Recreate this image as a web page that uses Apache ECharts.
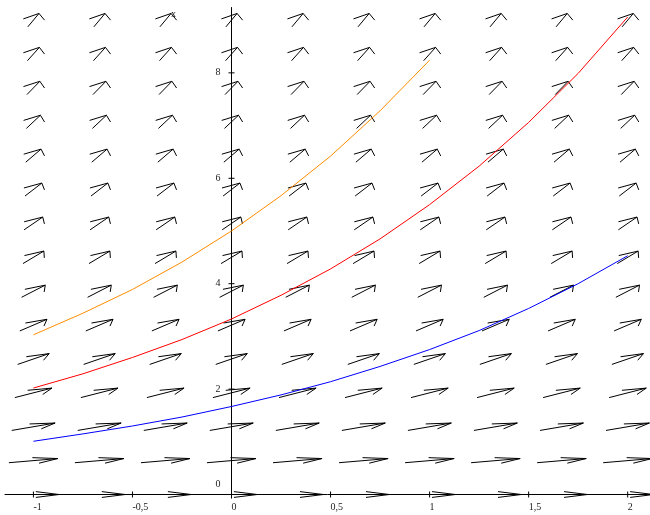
<!DOCTYPE html>
<html>
<head>
<meta charset="utf-8">
<script src="https://cdn.jsdelivr.net/npm/echarts@6/dist/echarts.min.js"></script>
<style>
  html, body { margin: 0; padding: 0; background: #fff; }
  #chart { width: 650px; height: 515px; }
</style>
</head>
<body>
<div id="chart"></div>
<script>
// Direction field of dx/dt = x/2 with three solution curves.

// Arrow grid: columns (t) and rows (x), with the field slope on each row
const tGrid = [-1, -0.6667, -0.3333, 0, 0.3333, 0.6667, 1, 1.3333, 1.6667, 2];
const xGrid = [0, 0.643, 1.286, 1.929, 2.571, 3.214, 3.857, 4.5, 5.143, 5.786, 6.429, 7.071, 7.714, 8.357, 9];
const rowSlopes = [0, 0.32, 0.64, 0.96, 1.29, 1.61, 1.93, 2.25, 2.57, 2.89, 3.21, 3.54, 3.86, 4.18, 4.5];

// Tick labels
const xTicks = [-1, -0.5, 0, 0.5, 1, 1.5, 2];
const yTicks = [0, 2, 4, 6, 8];

// Solution curves
const curveT = [-1, -0.75, -0.5, -0.25, 0, 0.25, 0.5, 0.75, 1, 1.25, 1.5, 1.75, 2];
const blueX = [1.01, 1.15, 1.30, 1.47, 1.67, 1.89, 2.14, 2.43, 2.75, 3.11, 3.53, 4.00, 4.53];
const redX = [2.02, 2.29, 2.60, 2.94, 3.33, 3.78, 4.28, 4.85, 5.50, 6.23, 7.06, 7.99, 9.06];
const orangeT = [-1, -0.75, -0.5, -0.25, 0, 0.25, 0.5, 0.75, 1];
const orangeX = [3.03, 3.44, 3.89, 4.41, 5.00, 5.67, 6.42, 7.28, 8.24];

const ARROW_LEN = 0.26;   // arrow length in data units
const HEAD_LEN = 0.13;    // barb length in data units
const HEAD_ANG = 25 * Math.PI / 180;
const FONT = '"Liberation Serif", "DejaVu Serif", serif';

// Plot area and axis ranges
const GRID = { left: 5, top: 7.5, width: 645, height: 490.7 };
const T_MIN = -1.1434, T_MAX = 2.1126;
const X_MIN = -0.07, X_MAX = 9.24;
// pixel distance from the grid edges to the t = 0 / x = 0 lines
const yAxisShift = GRID.width * (0 - T_MIN) / (T_MAX - T_MIN);
const xAxisShift = GRID.height * (0 - X_MIN) / (X_MAX - X_MIN);

const arrowData = [];
xGrid.forEach((x, r) => {
  tGrid.forEach(t => arrowData.push([t, x, rowSlopes[r]]));
});

const tickData = xTicks.map(v => [v, 0, 0]).concat(yTicks.map(v => [0, v, 1]));

function renderArrow(params, api) {
  const t = api.value(0), x = api.value(1), s = api.value(2);
  const n = Math.hypot(1, s);
  const dt = ARROW_LEN / n, dx = ARROW_LEN * s / n;
  const tipD = [t + dt / 2, x + dx / 2];
  const tail = api.coord([t - dt / 2, x - dx / 2]);
  const tip = api.coord(tipD);
  const back = Math.atan2(-dx, -dt);
  const b1 = api.coord([tipD[0] + HEAD_LEN * Math.cos(back + HEAD_ANG), tipD[1] + HEAD_LEN * Math.sin(back + HEAD_ANG)]);
  const b2 = api.coord([tipD[0] + HEAD_LEN * Math.cos(back - HEAD_ANG), tipD[1] + HEAD_LEN * Math.sin(back - HEAD_ANG)]);
  const style = { stroke: '#000', lineWidth: 1, fill: null };
  return {
    type: 'group',
    children: [
      { type: 'polyline', shape: { points: [tail, tip] }, style: style },
      { type: 'polyline', shape: { points: [b1, tip, b2] }, style: style }
    ]
  };
}

function renderTick(params, api) {
  const p = api.coord([api.value(0), api.value(1)]);
  const vertical = api.value(2) === 0;
  const pts = vertical ? [[p[0], p[1] - 3], [p[0], p[1] + 3]] : [[p[0] - 3, p[1]], [p[0] + 3, p[1]]];
  return { type: 'line', shape: { x1: pts[0][0], y1: pts[0][1], x2: pts[1][0], y2: pts[1][1] },
           style: { stroke: '#000', lineWidth: 1 } };
}

const chart = echarts.init(document.getElementById('chart'), null, { renderer: 'canvas' });
chart.setOption({
  animation: false,
  backgroundColor: '#fff',
  grid: Object.assign({ containLabel: false, outerBoundsMode: 'none' }, GRID),
  xAxis: {
    type: 'value', min: T_MIN, max: T_MAX,
    position: 'bottom', offset: -xAxisShift,
    axisLine: { onZero: false, lineStyle: { color: '#000', width: 1 } },
    axisTick: { show: false },
    splitLine: { show: false },
    axisLabel: {
      customValues: xTicks,
      formatter: v => String(v).replace('.', ','),
      align: 'left', margin: 8,
      fontFamily: FONT, fontSize: 10, color: '#222'
    }
  },
  yAxis: {
    type: 'value', min: X_MIN, max: X_MAX,
    position: 'left', offset: -yAxisShift,
    axisLine: { onZero: false, lineStyle: { color: '#000', width: 1 } },
    axisTick: { show: false },
    splitLine: { show: false },
    axisLabel: {
      customValues: yTicks,
      formatter: v => v === 0 ? '{z|0}' : String(v),
      margin: 11,
      fontFamily: FONT, fontSize: 10, color: '#222',
      rich: { z: { fontFamily: FONT, fontSize: 10, color: '#222', padding: [0, 0, 20, 0] } }
    }
  },
  graphic: [
    { type: 'text', left: 171, top: 9, style: { text: 'x', font: '10px ' + FONT, fill: '#222' } }
  ],
  series: [
    { type: 'custom', name: 'field', renderItem: renderArrow, data: arrowData, clip: false, silent: true, z: 2 },
    { type: 'custom', name: 'ticks', renderItem: renderTick, data: tickData, clip: false, silent: true, z: 3 },
    { type: 'line', name: 'blue', data: curveT.map((t, i) => [t, blueX[i]]), showSymbol: false,
      lineStyle: { color: '#0000ff', width: 1 }, z: 4 },
    { type: 'line', name: 'red', data: curveT.map((t, i) => [t, redX[i]]), showSymbol: false,
      lineStyle: { color: '#ff0000', width: 1 }, z: 4 },
    { type: 'line', name: 'orange', data: orangeT.map((t, i) => [t, orangeX[i]]), showSymbol: false,
      lineStyle: { color: '#ff8c00', width: 1 }, z: 4 }
  ]
});
</script>
</body>
</html>
